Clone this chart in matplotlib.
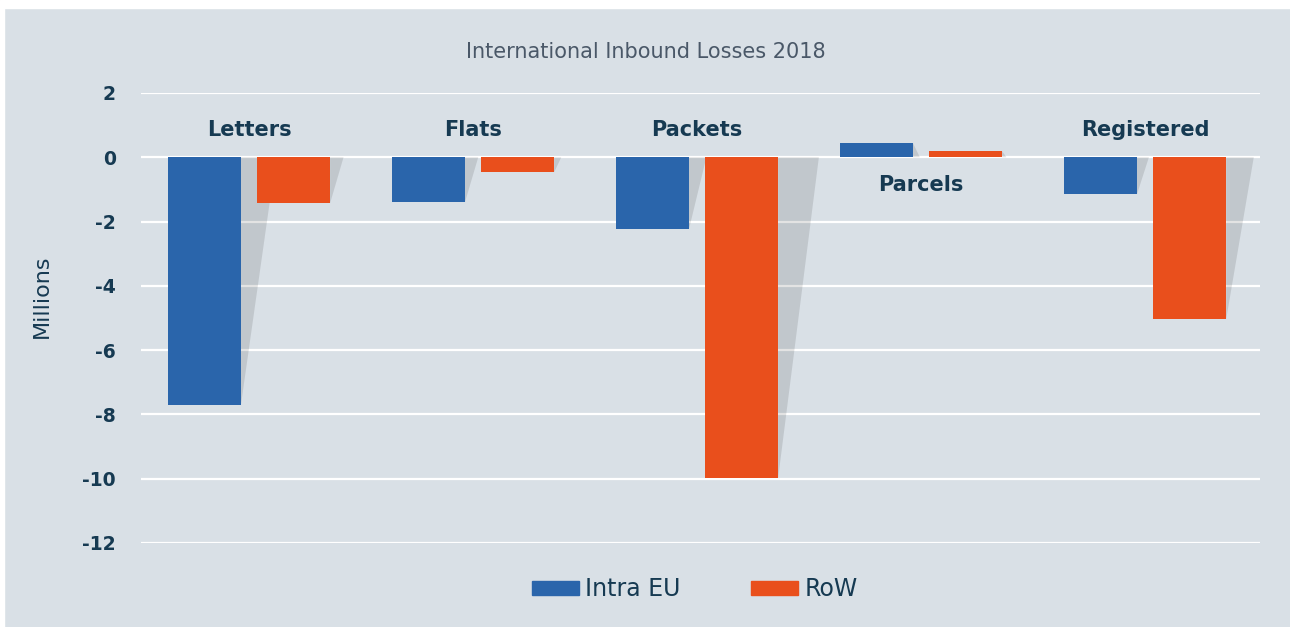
import matplotlib.pyplot as plt
from matplotlib.patches import Patch, Polygon, Rectangle
import numpy as np

categories = ['Letters', 'Flats', 'Packets', 'Parcels', 'Registered']
intra_eu = [-7.71, -1.40, -2.24, 0.44, -1.15]
row = [-1.43, -0.47, -9.98, 0.19, -5.04]
series_names = ['Intra EU', 'RoW']
yticks = [2, 0, -2, -4, -6, -8, -10, -12]

BG = '#d9e0e6'
BLUE = '#2a65ab'
ORANGE = '#e94f1c'
TEXT = '#163a52'

fig = plt.figure(figsize=(12.9, 6.27), dpi=100, facecolor=BG)
# thin white frame on top and left edges
fig.patches.append(Rectangle((0, 619 / 627), 1, 8 / 627, transform=fig.transFigure,
                             color='white', zorder=0))
fig.patches.append(Rectangle((0, 0), 4 / 1290, 1, transform=fig.transFigure,
                             color='white', zorder=0))

ax = fig.add_axes([141 / 1290, 84 / 627, 1119 / 1290, 450 / 627])
ax.set_facecolor(BG)

x = np.arange(len(categories))
width = 0.326
offset = 0.199

for vals, sign, color in [(intra_eu, -1, BLUE), (row, 1, ORANGE)]:
    pos = x + sign * offset
    ax.bar(pos, vals, width, color=color, zorder=3)
    # slanted drop shadow to the right of each bar
    for p, v in zip(pos, vals):
        right = p + width / 2
        w = 0.049 * abs(v) ** 0.57
        ax.add_patch(Polygon([(right, 0), (right + w, 0), (right, v)],
                             closed=True, color='black', alpha=0.11,
                             lw=0, zorder=2.5))

for t in yticks:
    ax.axhline(t, color='white', lw=1.6, zorder=1)

ax.set_ylim(-12, 2)
ax.set_xlim(-0.482, 4.513)
ax.set_yticks(yticks)
ax.set_yticklabels([str(t) for t in yticks], fontsize=13.5, color=TEXT,
                   fontweight='semibold')
ax.tick_params(axis='y', length=0, pad=18)
ax.set_xticks([])
for s in ax.spines.values():
    s.set_visible(False)

for i, c in enumerate(categories):
    v = max(intra_eu[i], row[i])
    ypos = -0.87 if v > 0 else 0.84
    ax.text(i, ypos, c, ha='center', va='center', fontsize=15,
            fontweight='semibold', color=TEXT, zorder=4)

fig.text(646 / 1290, 1 - 52 / 627, 'International Inbound Losses 2018',
         ha='center', va='center', fontsize=15, color='#4a5868')
fig.text(42 / 1290, 1 - 296 / 627, 'Millions', rotation=90, ha='center',
         va='center', fontsize=16, color=TEXT)

handles = [Patch(color=BLUE), Patch(color=ORANGE)]
fig.legend(handles, series_names, loc='center', bbox_to_anchor=(695 / 1290, 1 - 589 / 627),
           ncol=2, frameon=False, fontsize=17, handlelength=1.99, handleheight=0.55,
           handletextpad=0.25, columnspacing=3.0, labelcolor=TEXT)

fig.savefig('out.png', dpi=100, facecolor=BG)
